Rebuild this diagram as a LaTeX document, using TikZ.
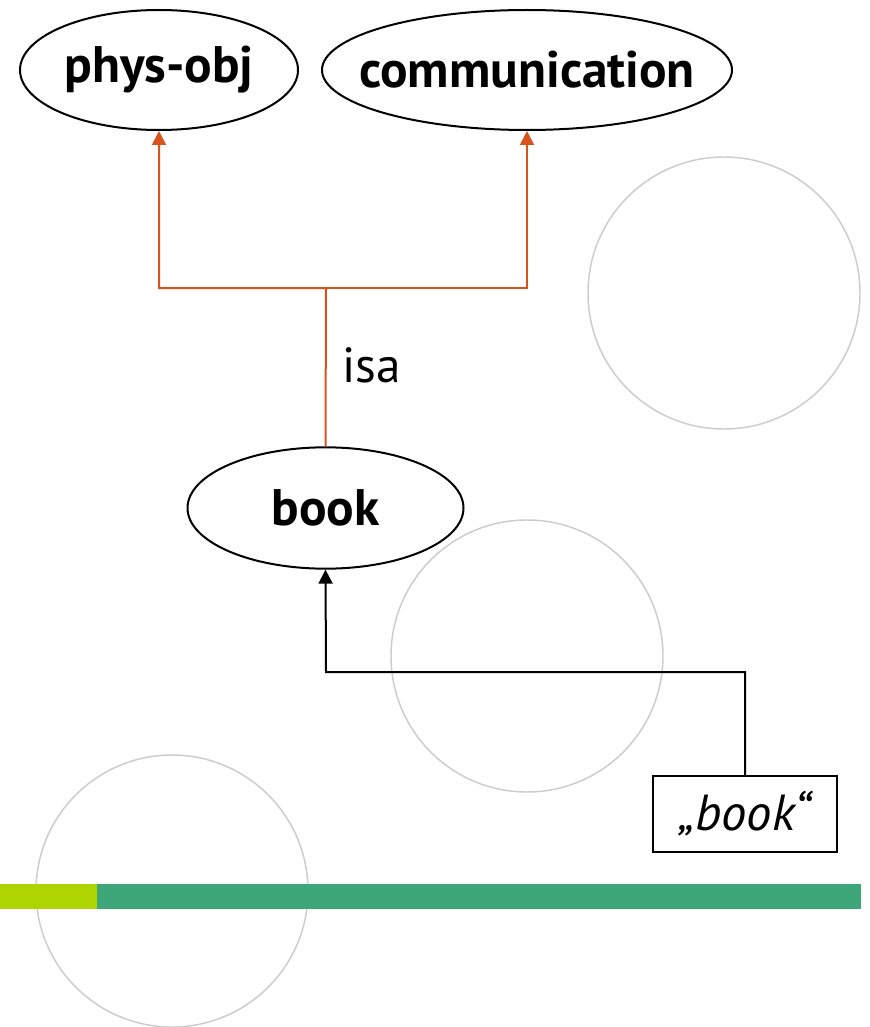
\documentclass[tikz,border=0pt]{standalone}
\usepackage{fontspec}
\setmainfont{PT Sans}
\usepackage{xcolor}
\usepackage{tikz}
\usetikzlibrary{arrows.meta,positioning,calc,shapes.geometric}

\definecolor{isaorange}{HTML}{D9531E}
\definecolor{barlime}{HTML}{AED500}
\definecolor{bargreen}{HTML}{3EA77A}
\definecolor{ringgray}{HTML}{CCCCCC}

% text of a concept does not widen its ellipse
\newcommand{\cname}[1]{\makebox[0pt]{#1}}

\tikzset{
  concept/.style = {draw, ellipse, line width=1.5pt, inner sep=0pt,
                    font=\fontsize{38.5}{44}\selectfont\bfseries},
  word/.style    = {draw, rectangle, line width=1.2pt, inner sep=0pt,
                    minimum width=138pt, minimum height=57pt,
                    font=\fontsize{38}{44}\selectfont\itshape},
  isa/.style     = {-{Triangle[length=10.5pt,width=10.5pt]}, isaorange, line width=1.5pt},
  ref/.style     = {-{Triangle[length=10.5pt,width=10.5pt]}, black, line width=1.5pt},
  ring/.style    = {ringgray, line width=1.1pt},
  lab/.style     = {font=\fontsize{37}{42}\selectfont}
}

\begin{document}
\begin{tikzpicture}[x=0.75pt,y=-0.75pt]
\useasboundingbox (0,0) rectangle (869,1027);

% --- background rings ---
\draw[ring] (724,293) circle[radius=136];
\draw[ring] (527,656) circle[radius=136];
\draw[ring] (172,891) circle[radius=136];

% --- colour bar ---
\fill[bargreen] (97,884) rectangle (861,909);
\fill[barlime] (0,884) rectangle (97,909);

% --- concepts ---
\node[concept, minimum width=208.5pt, minimum height=90pt] (phys) at (159,70) {\cname{phys-obj}};
\node[concept, minimum width=307.5pt, minimum height=90pt] (comm) at (527,70) {\cname{communication}};
\node[concept, minimum width=207pt, minimum height=91pt] (book) at (325.5,508) {\cname{book}};

% --- lexical entry ---
\node[word] (lex) at (745,814) {\cname{„book“}};

% --- isa links ---
\coordinate (fork) at (326,288);
\draw[isa] (book.north) -- (fork) -| (phys.south);
\draw[isa] (fork) -| (comm.south);
\node[lab, anchor=west] (isalab) at (338,365) {isa};

% --- word to concept ---
\coordinate (bend) at (326,672);
\draw[ref] (lex.north) |- (bend) -- (book.south);

\end{tikzpicture}
\end{document}
